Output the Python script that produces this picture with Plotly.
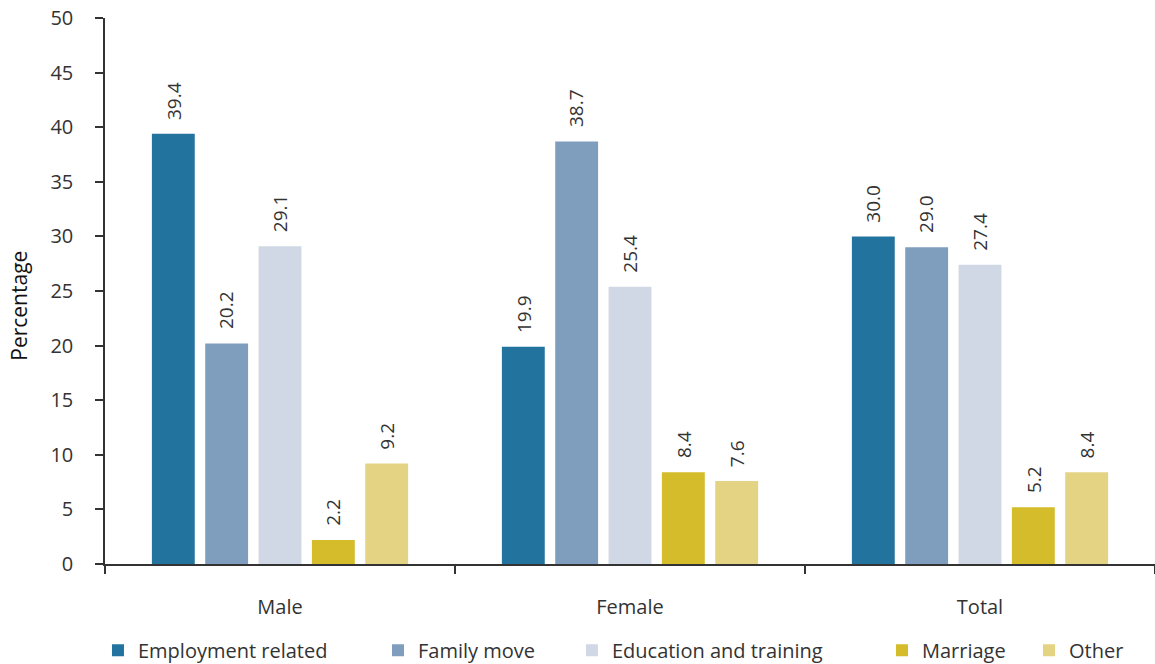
import plotly.graph_objects as go

# Reasons for moving, by sex (per cent)
groups = ["Male", "Female", "Total"]
reasons = ["Employment related", "Family move", "Education and training", "Marriage", "Other"]
employment = [39.4, 19.9, 30.0]
family = [20.2, 38.7, 29.0]
education = [29.1, 25.4, 27.4]
marriage = [2.2, 8.4, 5.2]
other = [9.2, 7.6, 8.4]

series = [employment, family, education, marriage, other]
colors = ["#23739f", "#7f9ebe", "#d0d8e5", "#d4bc2a", "#e4d383"]

FONT = "Open Sans, Noto Sans, sans-serif"
INK = "#333333"
BARGAP = 0.238
GROUPGAP = 0.196

# One single-entry legend per series so each key can sit at its own spot
legend_ids = ["legend", "legend2", "legend3", "legend4", "legend5"]
legend_x = [-0.0067, 0.260, 0.4447, 0.740, 0.880]

fig = go.Figure()
for name, vals, col, lid in zip(reasons, series, colors, legend_ids):
    fig.add_trace(go.Bar(
        name=name,
        x=groups,
        y=vals,
        marker=dict(color=col, line=dict(width=0)),
        legend=lid,
    ))

# Value labels, rotated, sitting a little above each bar
slot = (1 - BARGAP) / len(series)
for k, vals in enumerate(series):
    offset = (k - (len(series) - 1) / 2) * slot
    for i, v in enumerate(vals):
        fig.add_annotation(
            x=i + offset, y=v, xref="x", yref="y",
            text=f"{v:.1f}", textangle=-90,
            showarrow=False, xanchor="center", yanchor="bottom",
            yshift=12,
            font=dict(family=FONT, size=19, color=INK),
        )

# Axis title drawn as an annotation so it can sit slightly below centre
fig.add_annotation(
    text="Percentage", textangle=-90,
    xref="paper", yref="paper", x=0, y=0.473,
    xanchor="right", yanchor="middle", xshift=-70,
    showarrow=False,
    font=dict(family=FONT, size=21, color="#111111"),
)

layout_legends = {}
for lid, lx in zip(legend_ids, legend_x):
    layout_legends[lid] = dict(
        orientation="h",
        x=lx, xanchor="left",
        y=-0.158, yanchor="middle",
        font=dict(family=FONT, size=20, color=INK),
        bgcolor="rgba(0,0,0,0)",
    )

fig.update_layout(
    width=1155,
    height=664,
    margin=dict(l=105, r=0, t=18, b=100, autoexpand=False),
    paper_bgcolor="white",
    plot_bgcolor="white",
    barmode="group",
    bargap=BARGAP,
    bargroupgap=GROUPGAP,
    font=dict(family=FONT, size=20, color=INK),
    showlegend=True,
    **layout_legends,
)

fig.update_xaxes(
    showline=True, linecolor=INK, linewidth=1.5,
    ticks="outside", ticklen=8, tickcolor=INK, tickwidth=1.5,
    tickson="boundaries",
    ticklabelstandoff=24,
    tickfont=dict(family=FONT, size=20, color=INK),
    showgrid=False, zeroline=False,
)
fig.update_yaxes(
    range=[0, 50], dtick=5,
    showline=True, linecolor=INK, linewidth=1.5,
    ticks="outside", ticklen=8, tickcolor=INK, tickwidth=1.5,
    ticklabelstandoff=18,
    tickfont=dict(family=FONT, size=20, color=INK),
    showgrid=False, zeroline=False,
)

fig.write_html("out.html")
